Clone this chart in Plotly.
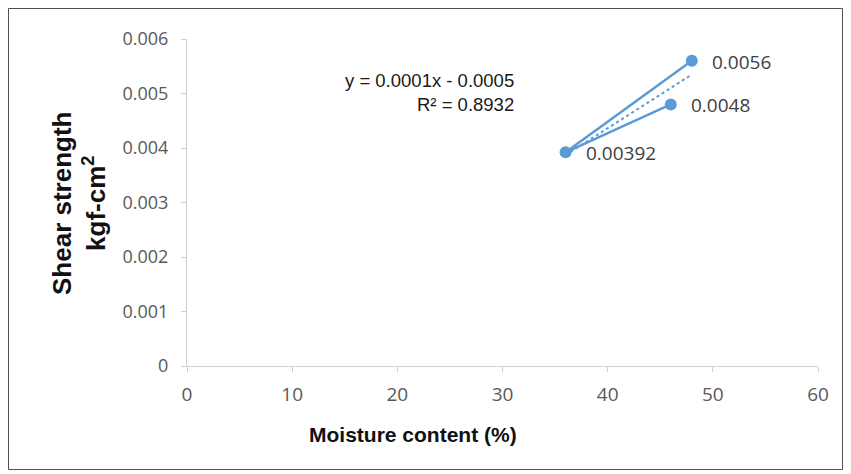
import numpy as np
import plotly.graph_objects as go

# Data
moisture = [48, 36, 46]
shear = [0.0056, 0.00392, 0.0048]
point_labels = ["0.0056", "0.00392", "0.0048"]
x_ticks = [0, 10, 20, 30, 40, 50, 60]
y_ticks = [0, 0.001, 0.002, 0.003, 0.004, 0.005, 0.006]
y_tick_text = ["0", "0.001", "0.002", "0.003", "0.004", "0.005", "0.006"]
equation_text = "y = 0.0001x - 0.0005<br>R² = 0.8932"
x_title = "Moisture content (%)"
y_title = "Shear strength<br>kgf-cm<sup>2</sup>"

slope, intercept = np.polyfit(moisture, shear, 1)
tx = [min(moisture), max(moisture)]
ty = [slope * v + intercept for v in tx]

blue = "#5B9BD5"
OFF = 8  # page body margin
W, H = 835, 462
L, R, T, B = 187 - OFF, 818 - OFF, 39 - OFF, 366 - OFF
pw, ph = R - L, B - T


def px(page_x):
    return (page_x - OFF - L) / pw


def py(page_y):
    return (B - (page_y - OFF)) / ph


fig = go.Figure()
fig.add_trace(go.Scatter(x=tx, y=ty, mode="lines",
                         line=dict(color=blue, width=2, dash="dot"),
                         hoverinfo="skip", showlegend=False))
fig.add_trace(go.Scatter(x=moisture, y=shear, mode="lines+markers",
                         line=dict(color=blue, width=2.5),
                         marker=dict(color=blue, size=12),
                         showlegend=False))

annotations = []
for xv, yv, lab in zip(moisture, shear, point_labels):
    annotations.append(dict(x=xv, y=yv, xref="x", yref="y", text=lab, showarrow=False,
                            xanchor="left", yanchor="middle", xshift=18, yshift=-1,
                            font=dict(family="Open Sans", size=19, color="#404040")))

annotations.append(dict(text=equation_text, xref="paper", yref="paper",
                        x=px(516), y=py(68), xanchor="right", yanchor="top",
                        align="right", showarrow=False,
                        font=dict(family="Liberation Sans", size=18.5, color="#1a1a1a")))
annotations.append(dict(text=x_title, xref="paper", yref="paper",
                        x=px(413), y=py(434), xanchor="center", yanchor="middle",
                        showarrow=False,
                        font=dict(family="Liberation Sans", size=21, color="#111111", weight="bold")))
annotations.append(dict(text=y_title, xref="paper", yref="paper", textangle=-90,
                        x=px(79), y=py(203), xanchor="center", yanchor="middle",
                        showarrow=False,
                        font=dict(family="Liberation Sans", size=26, color="#111111", weight="bold")))

fig.update_layout(
    width=W, height=H,
    margin=dict(l=L, r=W - R, t=T, b=H - B),
    paper_bgcolor="white", plot_bgcolor="white",
    xaxis=dict(range=[0, 60], tickvals=x_ticks, showgrid=False, zeroline=False,
               showline=True, linecolor="#d0d0d0", linewidth=1,
               ticks="outside", ticklen=5, tickcolor="#d0d0d0", ticklabelstandoff=6,
               tickfont=dict(family="Open Sans", size=19, color="#595959")),
    yaxis=dict(range=[0, 0.006], tickvals=y_ticks, ticktext=y_tick_text, showgrid=False,
               zeroline=False, showline=True, linecolor="#d0d0d0", linewidth=1,
               ticks="outside", ticklen=5, tickcolor="#d0d0d0", ticklabelstandoff=9,
               tickfont=dict(family="Open Sans", size=18, color="#595959")),
    annotations=annotations,
    shapes=[dict(type="rect", xref="paper", yref="paper",
                 x0=(0.5 - L) / pw, x1=(W - 0.5 - L) / pw,
                 y0=(B - (H - 0.5)) / ph, y1=(B - 0.5) / ph,
                 line=dict(color="#505050", width=1), fillcolor="rgba(0,0,0,0)", layer="below")],
)

fig.write_html("out.html")
